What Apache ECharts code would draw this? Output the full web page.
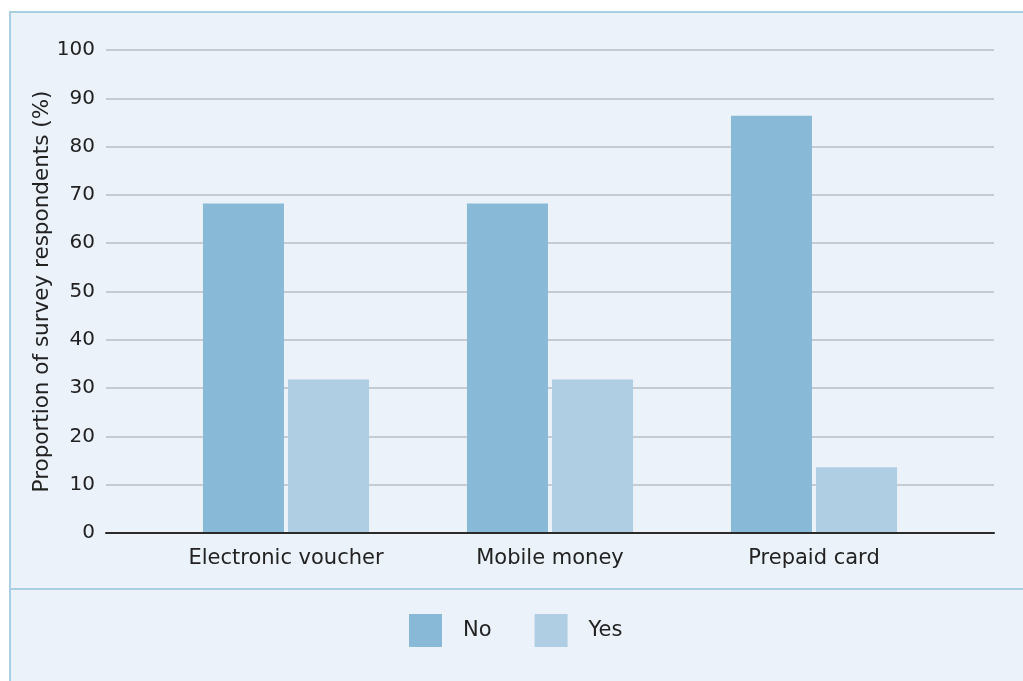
<!DOCTYPE html>
<html><head><meta charset="utf-8">
<script src="https://cdn.jsdelivr.net/npm/echarts@6/dist/echarts.min.js"></script>
<style>html,body{margin:0;padding:0;background:#fff}#c{width:1023px;height:681px}</style>
</head><body><div id="c"></div>
<script>
const categories = ['Electronic voucher', 'Mobile money', 'Prepaid card'];
const seriesNames = ['No', 'Yes'];
const noValues = [68.2, 68.2, 86.4];
const yesValues = [31.8, 31.8, 13.6];
const yTicks = [0, 10, 20, 30, 40, 50, 60, 70, 80, 90, 100];
const yTitle = 'Proportion of survey respondents (%)';

const FONT = 'DejaVu Sans';
const chart = echarts.init(document.getElementById('c'), null, {renderer: 'canvas'});
chart.setOption({
  backgroundColor: '#ffffff',
  animation: false,
  graphic: [
    {type: 'rect', z: -10, silent: true, shape: {x: 10, y: 12, width: 1030, height: 690},
     style: {fill: '#EBF2F9', stroke: '#A9CFE2', lineWidth: 2}},
    {type: 'line', z: -9, silent: true, shape: {x1: 10, y1: 589, x2: 1023, y2: 589},
     style: {stroke: '#A9CFE2', lineWidth: 2}}
  ],
  grid: [
    {left: 106, right: 29, top: 50, bottom: 148, containLabel: false},
    {left: 154, right: 77, top: 50, bottom: 148, containLabel: false}
  ],
  legend: {
    left: 404, top: 609, itemWidth: 33, itemHeight: 33, itemGap: 43,
    icon: 'rect', data: seriesNames,
    textStyle: {fontFamily: FONT, fontSize: 21, color: '#222', padding: [0, 0, 0, 16]}
  },
  xAxis: [
    {type: 'category', gridIndex: 0, data: [''], axisTick: {show: false}, axisLabel: {show: false},
     axisLine: {show: true, lineStyle: {color: '#2b2b2b', width: 2}}, z: 5},
    {type: 'category', gridIndex: 1, data: categories, axisTick: {show: false},
     axisLine: {show: false},
     axisLabel: {fontFamily: FONT, fontSize: 21, color: '#222', margin: 15}}
  ],
  yAxis: [
    {type: 'value', gridIndex: 0, min: 0, max: 100, interval: 10,
     axisLine: {show: false}, axisTick: {show: false},
     axisLabel: {fontFamily: FONT, fontSize: 20, color: '#222', margin: 11,
       formatter: v => yTicks.includes(v) ? String(v) : ''},
     splitLine: {lineStyle: {color: '#BABDC6', width: 1.5}},
     name: yTitle, nameLocation: 'middle', nameGap: 53, nameMoveOverlap: false,
     nameTextStyle: {fontFamily: FONT, fontSize: 21.5, color: '#222'}},
    {type: 'value', gridIndex: 1, min: 0, max: 100, interval: 10, show: false,
     splitLine: {show: false}}
  ],
  series: [
    {name: seriesNames[0], type: 'bar', xAxisIndex: 1, yAxisIndex: 1, data: noValues,
     barWidth: 81, barGap: '5%', itemStyle: {color: '#88BAD8'}},
    {name: seriesNames[1], type: 'bar', xAxisIndex: 1, yAxisIndex: 1, data: yesValues,
     barWidth: 81, barGap: '5%', itemStyle: {color: '#AFCDE3'}}
  ]
});
</script></body></html>
